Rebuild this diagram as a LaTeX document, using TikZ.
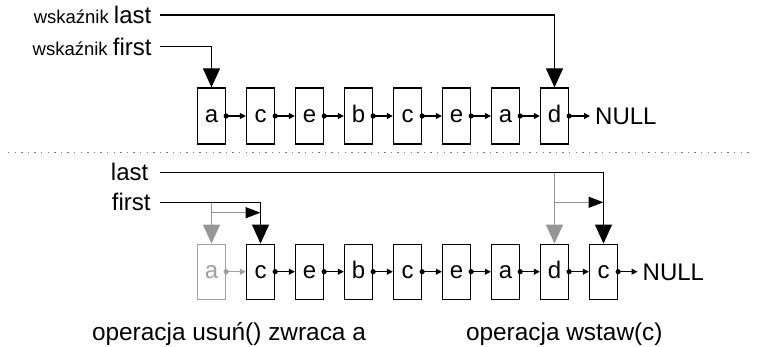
\documentclass[tikz,border=0pt]{standalone}
\usepackage{fontspec}
\setmainfont{Liberation Sans}
\usetikzlibrary{arrows.meta}
\definecolor{fadebox}{RGB}{160,160,160}
\definecolor{fadeline}{RGB}{150,150,150}
\definecolor{sepdots}{RGB}{120,120,120}
\begin{document}
\begin{tikzpicture}[x=1pt,y=-1pt,
  cell/.style={draw, line width=1.3pt, minimum width=28pt, minimum height=56pt,
    inner sep=0pt, text height=13pt, text depth=0pt,
    font=\fontsize{24}{28}\selectfont},
  fadecell/.style={cell, draw=fadebox, text=fadebox},
  nulltxt/.style={inner xsep=5pt, inner ysep=0pt, text height=17pt, text depth=0pt,
    font=\fontsize{24}{28}\selectfont},
  lbl/.style={inner ysep=0pt, text height=17pt, text depth=0pt,
    font=\fontsize{24}{28}\selectfont},
  caption/.style={inner sep=0pt, font=\fontsize{24.4}{28}\selectfont},
  link/.style={line width=1.2pt, -{Triangle[length=6pt,width=6pt]}},
  ptr/.style={line width=1.3pt, -{Triangle[length=19pt,width=17pt]}},
  fadeptr/.style={line width=1.3pt, draw=fadeline, -{Triangle[length=19pt,width=17pt]}},
  moveptr/.style={line width=1.3pt, draw=fadeline, -{Triangle[length=15pt,width=11pt,color=black]}},
]
\useasboundingbox (0,0) rectangle (761,347);

% ---------- list before the operations ----------
\foreach \l [count=\i] in {a,c,e,b,c,e,a,d}
  \node[cell] (t\i) at ({211.5+49*(\i-1)},116) {\l};
\node[nulltxt, anchor=west] (tn) at (590,116) {NULL};
\foreach \i [evaluate=\i as \j using int(\i+1)] in {1,...,7} {
  \draw[link] (t\i.east) -- (t\j.west);
  \fill (t\i.east) circle (2.6pt);
}
\draw[link] (t8.east) -- (tn.west);
\fill (t8.east) circle (2.6pt);

\node[lbl, anchor=east, inner xsep=8.5pt] (tl) at (160,15)
  {{\fontsize{18.5}{20}\selectfont wskaźnik }last};
\node[lbl, anchor=east, inner xsep=8.3pt] (tf) at (160,46.7)
  {{\fontsize{18.5}{20}\selectfont wskaźnik }first};
\draw[ptr] (tl.east) -- (t8.north |- tl.east) -- (t8.north);
\draw[ptr] (tf.east) -- (t1.north |- tf.east) -- (t1.north);

% ---------- separator ----------
\draw[sepdots, line width=1.3pt, dash pattern=on 1.3pt off 5.3pt]
  (8,152.7) -- (753,152.7);

% ---------- list after usun() and wstaw(c) ----------
\node[fadecell, minimum height=55pt] (b1) at (211.5,271.7) {a};
\foreach \l [count=\i from 2] in {c,e,b,c,e,a,d,c}
  \node[cell, minimum height=55pt] (b\i) at ({211.5+49*(\i-1)},271.7) {\l};
\node[nulltxt, anchor=west] (bn) at (637.5,271.7) {NULL};
\draw[link, fadebox] (b1.east) -- (b2.west);
\fill[fadebox] (b1.east) circle (2.6pt);
\foreach \i [evaluate=\i as \j using int(\i+1)] in {2,...,8} {
  \draw[link] (b\i.east) -- (b\j.west);
  \fill (b\i.east) circle (2.6pt);
}
\draw[link] (b9.east) -- (bn.west);
\fill (b9.east) circle (2.6pt);

\node[lbl, anchor=east, inner xsep=11.5pt] (bl) at (160,172.5) {last};
\node[lbl, anchor=east, inner xsep=9.3pt] (bf) at (160,202.3) {first};

% old targets (faded) and the moves of the pointers
\draw[fadeptr] (b1.north |- bf.east) -- (b1.north);
\draw[fadeptr] (b8.north |- bl.east) -- (b8.north);
\coordinate (mf) at (211.5,212.7);
\coordinate (ml) at (554.5,202.3);
\draw[moveptr] (mf) -- (mf -| b2.north);
\draw[moveptr] (ml) -- (ml -| b9.north);

\draw[ptr] (bf.east) -- (b2.north |- bf.east) -- (b2.north);
\draw[ptr] (bl.east) -- (b9.north |- bl.east) -- (b9.north);

% ---------- captions ----------
\node[caption, anchor=base west] (cu) at (91.8,341) {operacja usuń() zwraca a};
\node[caption, anchor=base west] (cw) at (465.8,341) {operacja wstaw(c)};
\end{tikzpicture}
\end{document}
